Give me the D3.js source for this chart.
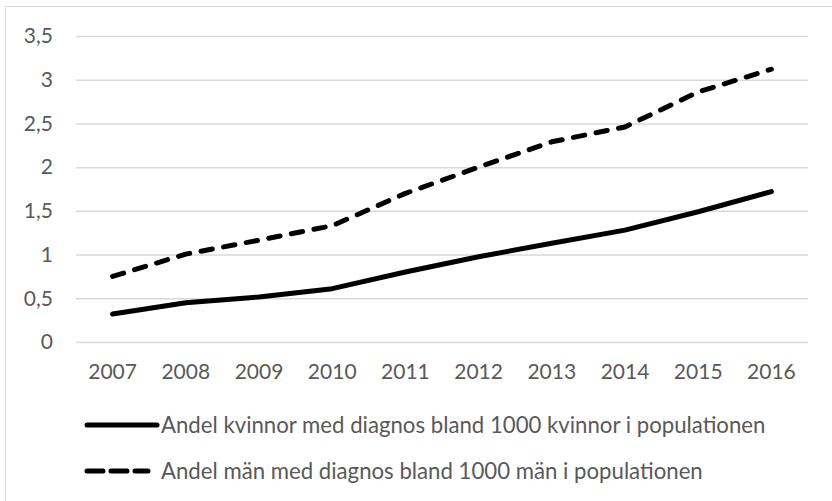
<!DOCTYPE html>
<html>
<head>
<meta charset="utf-8">
<script src="https://cdn.jsdelivr.net/npm/d3@7"></script>
<style>
body { margin: 0; background: #fff; }
svg text { font-family: Lato, "Liberation Sans", sans-serif; fill: #595959; }
</style>
</head>
<body>
<script>
var years = ["2007", "2008", "2009", "2010", "2011", "2012", "2013", "2014", "2015", "2016"];
var kvinnor = [0.32, 0.45, 0.515, 0.61, 0.80, 0.975, 1.13, 1.28, 1.49, 1.72];
var man = [0.75, 1.005, 1.165, 1.33, 1.70, 2.0, 2.29, 2.46, 2.86, 3.12];
var yTicks = [0, 0.5, 1, 1.5, 2, 2.5, 3, 3.5];
var seriesNames = ["Andel kvinnor med diagnos bland 1000 kvinnor i populationen",
	"Andel män med diagnos bland 1000 män i populationen"];

var canvasWidth = 832;
var canvasHeight = 501;
var margin = {top: 36, right: 24, bottom: 159, left: 76};
var width = canvasWidth - margin.left - margin.right;
var height = canvasHeight - margin.top - margin.bottom;

var svg = d3.select("body").append("svg")
	.attr("width", canvasWidth)
	.attr("height", canvasHeight);

// chart frame
svg.append("rect")
	.attr("x", 5.5)
	.attr("y", 6.5)
	.attr("width", 840)
	.attr("height", 520)
	.attr("fill", "none")
	.attr("stroke", "#d9d9d9")
	.attr("stroke-width", 1);

var canvas = svg.append("g")
	.attr("transform", "translate(" + margin.left + "," + margin.top + ")");

var xScale = d3.scaleBand()
	.domain(years)
	.range([0, width]);

var yScale = d3.scaleLinear()
	.domain([0, 3.5])
	.range([height, 0]);

var fmt = function(d) { return String(d).replace(".", ","); };

// gridlines + y labels
var yAxis = canvas.append("g")
	.call(d3.axisLeft(yScale).tickValues(yTicks).tickSize(-width).tickPadding(23).tickFormat(fmt));
yAxis.select(".domain").remove();
yAxis.selectAll(".tick line").attr("stroke", "#d9d9d9").attr("stroke-width", 1.5);
yAxis.selectAll(".tick text").attr("font-size", "21px").attr("fill", "#595959");

// x labels
var xAxis = canvas.append("g")
	.attr("transform", "translate(0," + height + ")")
	.call(d3.axisBottom(xScale).tickSize(0).tickPadding(22));
xAxis.select(".domain").remove();
xAxis.selectAll(".tick text").attr("font-size", "21px").attr("fill", "#595959");

var line = d3.line()
	.x(function(d, i) { return xScale(years[i]) + xScale.bandwidth() / 2; })
	.y(function(d) { return yScale(d); });

canvas.append("path")
	.datum(kvinnor)
	.attr("fill", "none")
	.attr("stroke", "#000")
	.attr("stroke-width", 5)
	.attr("stroke-linecap", "round")
	.attr("stroke-linejoin", "round")
	.attr("d", line);

canvas.append("path")
	.datum(man)
	.attr("fill", "none")
	.attr("stroke", "#000")
	.attr("stroke-width", 5)
	.attr("stroke-linecap", "round")
	.attr("stroke-linejoin", "round")
	.attr("stroke-dasharray", "11.5,11.5")
	.attr("d", line);

// legend
var legend = svg.append("g");
var legendY = [425, 471];
var legendDash = [null, "16,8"];
var legendEnd = [157, 148];

legend.selectAll("line")
	.data(seriesNames)
	.enter().append("line")
	.attr("x1", 87)
	.attr("x2", function(d, i) { return legendEnd[i]; })
	.attr("y1", function(d, i) { return legendY[i]; })
	.attr("y2", function(d, i) { return legendY[i]; })
	.attr("stroke", "#000")
	.attr("stroke-width", 5)
	.attr("stroke-linecap", "round")
	.attr("stroke-dasharray", function(d, i) { return legendDash[i]; });

legend.selectAll("text")
	.data(seriesNames)
	.enter().append("text")
	.attr("x", 161)
	.attr("y", function(d, i) { return legendY[i]; })
	.attr("dy", "0.35em")
	.attr("font-size", "22.2px")
	.text(function(d) { return d; });
</script>
</body>
</html>
